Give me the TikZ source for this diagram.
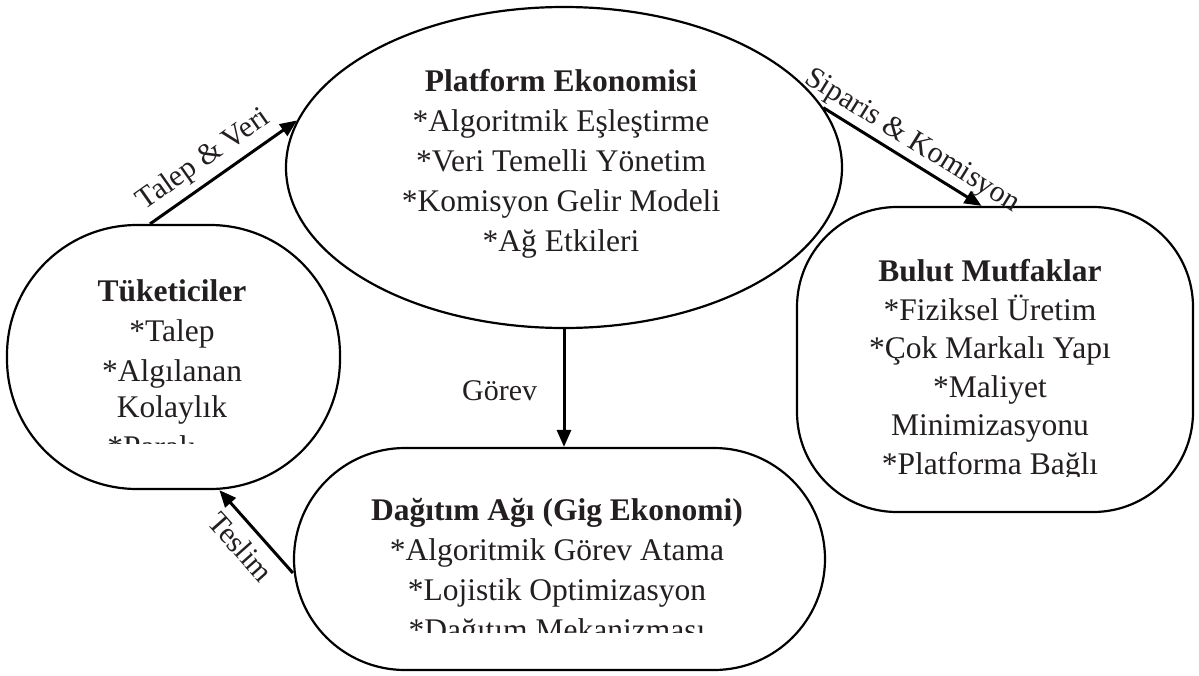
\documentclass[tikz,border=0pt]{standalone}
\usepackage{fontspec}
\setmainfont{Liberation Serif}
\usetikzlibrary{shapes.geometric,arrows.meta}
\definecolor{txtc}{HTML}{231F20}
\begin{document}
\begin{tikzpicture}[x=1pt,y=-1pt,
  shp/.style={draw=black, line width=2.2pt, inner sep=0pt, fill=white},
  txt/.style={align=center, font=\fontsize{31.5}{40}\selectfont, text=txtc, inner sep=0pt, anchor=base},
  conn/.style={draw=black, line width=3pt, -{Triangle[length=17pt,width=14pt]}},
  lbl/.style={font=\fontsize{30}{36}\selectfont, text=txtc}]
\useasboundingbox (0,0) rectangle (1199,675);
% shapes
\node[shp, ellipse, minimum width=556pt, minimum height=321pt] (plat) at (564,167.5) {};
\node[shp, rectangle, rounded corners=130pt, minimum width=333pt, minimum height=264pt] (tuk) at (173.5,357) {};
\node[shp, rectangle, rounded corners=111pt, minimum width=531pt, minimum height=222pt] (dag) at (559.5,559) {};
\node[shp, rectangle, rounded corners=100pt, minimum width=396pt, minimum height=305pt] (bulut) at (995,359.5) {};
% texts (anchor = baseline of last line)
\node[txt] (platT) at (561,251) {\textbf{Platform Ekonomisi}\\*Algoritmik Eşleştirme\\*Veri Temelli Yönetim\\*Komisyon Gelir Modeli\\*Ağ Etkileri};
\begin{scope}
\clip (10,230) rectangle (335,443);
\node[txt] (tukT) at (172,457) {\textbf{Tüketiciler}\\*Talep\\*Algılanan\\[-4pt]Kolaylık\\*Paralı\hspace*{40pt}};
\end{scope}
\begin{scope}
\clip (800,215) rectangle (1190,476);
\node[txt, font=\fontsize{31.5}{38.5}\selectfont] (bulutT) at (990,474) {\textbf{Bulut Mutfaklar}\\*Fiziksel Üretim\\*Çok Markalı Yapı\\*Maliyet\\Minimizasyonu\\*Platforma Bağlı};
\end{scope}
\begin{scope}
\clip (300,455) rectangle (820,632);
\node[txt] (dagT) at (557,640) {\textbf{Dağıtım Ağı (Gig Ekonomi)}\\*Algoritmik Görev Atama\\*Lojistik Optimizasyon\\*Dağıtım Mekanizması};
\end{scope}
% connectors
\draw[conn] (tuk.100) -- node[lbl, sloped, above=3pt, pos=0.45] (l1) {Talep \& Veri} (plat.170);
\draw[conn] (plat.13) -- node[lbl, sloped, above, pos=0.5] (l2) {Siparis \& Komisyon} (bulut.95.6);
\draw[conn] (plat.south) -- node[lbl, left=22pt, pos=0.52] (l3) {Görev} (plat.south |- dag.north);
\draw[conn] (dag.183.4) -- node[lbl, sloped, below=6pt, pos=0.49] (l4) {Teslim} (tuk.-71.7);
\end{tikzpicture}
\end{document}
